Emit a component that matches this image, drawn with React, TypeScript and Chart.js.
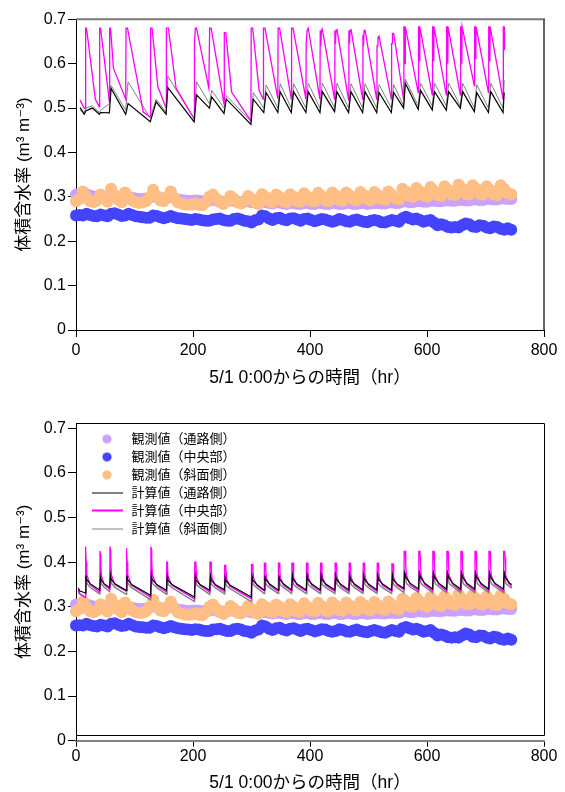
import React, { useEffect, useRef } from 'react';
import { Chart, registerables } from 'chart.js';

Chart.register(...registerables);

// ---------- text ----------
const X_TITLE = '5/1 0:00からの時間（hr）';
const Y_TITLE = '体積含水率 (m³ m⁻³)';
const LEGEND_LABELS = [
  '観測値（通路側）',
  '観測値（中央部）',
  '観測値（斜面側）',
  '計算値（通路側）',
  '計算値（中央部）',
  '計算値（斜面側）',
];

// ---------- ticks ----------
const X_TICKS = [0, 200, 400, 600, 800];
const Y_TICKS = [0, 0.1, 0.2, 0.3, 0.4, 0.5, 0.6, 0.7];

// ---------- observed (sampled every 6 hr from 0 hr) ----------
const OBS_STEP_HR = 6;
const OBS_ROAD = [
  0.305, 0.303, 0.304, 0.306, 0.303, 0.301, 0.300, 0.302, 0.300, 0.298, 0.303, 0.302, 0.299, 0.297, 0.300, 0.300, 0.298, 0.296, 0.295, 0.295, 0.296, 0.298, 0.302, 0.300, 0.297,
  0.295, 0.298, 0.300, 0.297, 0.294, 0.293, 0.292, 0.291, 0.291, 0.292, 0.291, 0.290, 0.290, 0.292, 0.294, 0.292, 0.290, 0.289, 0.290, 0.292, 0.291, 0.289, 0.288, 0.289, 0.291,
  0.288, 0.287, 0.286, 0.289, 0.288, 0.286, 0.285, 0.287, 0.287, 0.285, 0.284, 0.286, 0.286, 0.284, 0.284, 0.286, 0.286, 0.284, 0.284, 0.286, 0.286, 0.284, 0.284, 0.286, 0.286,
  0.284, 0.284, 0.286, 0.286, 0.284, 0.284, 0.286, 0.286, 0.284, 0.285, 0.286, 0.286, 0.285, 0.285, 0.287, 0.287, 0.286, 0.286, 0.289, 0.290, 0.288, 0.288, 0.290, 0.290, 0.289,
  0.289, 0.291, 0.291, 0.290, 0.290, 0.292, 0.292, 0.291, 0.291, 0.293, 0.293, 0.292, 0.292, 0.294, 0.294, 0.293, 0.293, 0.295, 0.295, 0.294, 0.294, 0.296, 0.296, 0.295, 0.295,
];
const OBS_CENTER = [
  0.258, 0.259, 0.258, 0.262, 0.259, 0.257, 0.256, 0.260, 0.258, 0.256, 0.262, 0.263, 0.260, 0.257, 0.258, 0.262, 0.259, 0.256, 0.255, 0.254, 0.253, 0.253, 0.258, 0.257, 0.254,
  0.252, 0.254, 0.257, 0.254, 0.252, 0.251, 0.250, 0.249, 0.248, 0.250, 0.249, 0.247, 0.246, 0.246, 0.249, 0.250, 0.251, 0.248, 0.246, 0.246, 0.250, 0.251, 0.249, 0.246, 0.245,
  0.242, 0.247, 0.249, 0.258, 0.256, 0.251, 0.248, 0.252, 0.253, 0.249, 0.247, 0.251, 0.252, 0.249, 0.246, 0.250, 0.251, 0.248, 0.245, 0.247, 0.250, 0.249, 0.246, 0.244, 0.246,
  0.250, 0.248, 0.245, 0.244, 0.247, 0.249, 0.246, 0.244, 0.243, 0.246, 0.248, 0.246, 0.243, 0.242, 0.245, 0.248, 0.246, 0.244, 0.252, 0.255, 0.252, 0.249, 0.251, 0.248, 0.244,
  0.246, 0.248, 0.242, 0.236, 0.238, 0.236, 0.232, 0.231, 0.232, 0.231, 0.236, 0.240, 0.238, 0.233, 0.232, 0.236, 0.235, 0.231, 0.229, 0.233, 0.232, 0.228, 0.226, 0.229, 0.226,
];
const OBS_SLOPE = [
  0.290, 0.295, 0.312, 0.298, 0.290, 0.288, 0.292, 0.305, 0.296, 0.289, 0.318, 0.305, 0.294, 0.288, 0.310, 0.300, 0.292, 0.288, 0.286, 0.287, 0.290, 0.300, 0.316, 0.302, 0.292,
  0.290, 0.300, 0.312, 0.298, 0.288, 0.285, 0.283, 0.282, 0.283, 0.285, 0.282, 0.281, 0.288, 0.300, 0.305, 0.296, 0.288, 0.284, 0.290, 0.302, 0.296, 0.287, 0.285, 0.290, 0.302,
  0.296, 0.287, 0.284, 0.306, 0.300, 0.290, 0.288, 0.305, 0.300, 0.290, 0.288, 0.306, 0.300, 0.290, 0.289, 0.308, 0.300, 0.291, 0.290, 0.309, 0.302, 0.292, 0.290, 0.310, 0.303,
  0.293, 0.291, 0.310, 0.303, 0.294, 0.292, 0.311, 0.304, 0.294, 0.292, 0.311, 0.304, 0.295, 0.293, 0.312, 0.305, 0.296, 0.294, 0.318, 0.312, 0.302, 0.300, 0.320, 0.312, 0.303,
  0.300, 0.322, 0.314, 0.304, 0.302, 0.324, 0.316, 0.306, 0.304, 0.328, 0.318, 0.307, 0.305, 0.326, 0.318, 0.307, 0.305, 0.324, 0.316, 0.306, 0.304, 0.326, 0.318, 0.308, 0.306,
];

// ---------- calculated, upper panel : [hr, value] ----------
const TOP_CALC_ROAD: [number, number][] = [
  [7, 0.501], [14, 0.486], [17, 0.494], [28, 0.5], [40, 0.486], [42, 0.49], [57, 0.489], [60, 0.544],
  [85, 0.486], [89, 0.51], [127, 0.469], [137, 0.514], [154, 0.486], [157, 0.546], [202, 0.469], [206, 0.53],
  [228, 0.5], [232, 0.525], [253, 0.488], [257, 0.52], [299, 0.463], [303, 0.52], [321, 0.49], [325, 0.535],
  [345, 0.49], [349, 0.537], [368, 0.49], [372, 0.537], [393, 0.49], [397, 0.537], [417, 0.49], [421, 0.537],
  [442, 0.492], [446, 0.537], [466, 0.49], [470, 0.537], [490, 0.49], [494, 0.537], [514, 0.49], [518, 0.535],
  [539, 0.49], [543, 0.535], [560, 0.5], [563, 0.556], [585, 0.497], [589, 0.54], [609, 0.496], [613, 0.537],
  [633, 0.495], [637, 0.537], [657, 0.5], [661, 0.537], [681, 0.492], [685, 0.535], [705, 0.49], [709, 0.537],
  [730, 0.49], [732, 0.535],
];
const TOP_CALC_CENTER: [number, number][] = [
  [7, 0.518], [14, 0.5], [16, 0.5], [16.5, 0.68], [18, 0.68], [33, 0.52], [40, 0.503], [40.5, 0.68], [42, 0.68],
  [57, 0.515], [57.5, 0.68], [59, 0.68], [64, 0.59], [85, 0.52], [85.5, 0.68], [88, 0.68], [115, 0.491],
  [127, 0.48], [127.5, 0.68], [130, 0.68], [140, 0.548], [154, 0.5], [154.5, 0.68], [158, 0.68], [171, 0.545],
  [202, 0.476], [202.5, 0.645], [204, 0.68], [206, 0.68], [227, 0.545], [228.5, 0.68], [231, 0.68],
  [253, 0.509], [253.5, 0.67], [256, 0.67], [266, 0.536], [299, 0.471], [299.5, 0.68], [302, 0.68],
  [313, 0.54], [320, 0.52], [320.5, 0.68], [323, 0.68], [345, 0.522], [345.5, 0.68], [348, 0.68],
  [368, 0.52], [368.5, 0.68], [371, 0.68],
  [393, 0.52], [393.5, 0.645], [394.5, 0.645], [395, 0.675], [397, 0.68],
  [417, 0.52], [417.5, 0.675], [418.5, 0.64], [419.5, 0.675], [421, 0.678],
  [442, 0.52], [442.5, 0.675], [443.5, 0.645], [444.5, 0.675], [446, 0.678],
  [466, 0.518], [466.5, 0.675], [467.5, 0.645], [468.5, 0.675], [470, 0.678],
  [490, 0.52], [490.5, 0.665], [491.5, 0.64], [492.5, 0.675], [494, 0.676],
  [514, 0.52], [514.5, 0.64], [516, 0.64], [516.5, 0.66], [518, 0.662],
  [539, 0.52], [539.5, 0.645], [540.5, 0.645], [541, 0.668], [543, 0.668],
  [560, 0.52], [560.5, 0.683], [562, 0.683], [562.5, 0.6], [563, 0.683],
  [585, 0.535], [585.5, 0.683], [587, 0.683], [587.5, 0.605], [588, 0.683],
  [609, 0.53], [609.5, 0.683], [611, 0.683], [611.5, 0.605], [612, 0.683],
  [633, 0.53], [633.5, 0.683], [635, 0.683], [635.5, 0.6], [636, 0.683],
  [657, 0.53], [657.5, 0.683], [659, 0.683], [659.5, 0.6], [660, 0.683],
  [681, 0.55], [681.5, 0.683], [683, 0.683], [683.5, 0.61], [684, 0.683],
  [705, 0.535], [705.5, 0.683], [707, 0.683], [707.5, 0.605], [708, 0.683],
  [730, 0.52], [730.5, 0.683], [732, 0.683], [732.5, 0.63],
];
const TOP_CALC_SLOPE: [number, number][] = [
  [7, 0.495], [14, 0.49], [17, 0.5], [28, 0.505], [40, 0.49], [42, 0.495], [57, 0.51], [60, 0.551],
  [85, 0.495], [89, 0.559], [127, 0.477], [137, 0.52], [154, 0.49], [157, 0.572], [202, 0.475], [206, 0.559],
  [228, 0.51], [232, 0.54], [253, 0.5], [257, 0.528], [299, 0.47], [303, 0.535], [321, 0.5], [325, 0.552],
  [345, 0.5], [349, 0.555], [368, 0.5], [372, 0.555], [393, 0.5], [397, 0.556], [417, 0.5], [421, 0.556],
  [442, 0.5], [446, 0.556], [466, 0.5], [470, 0.555], [490, 0.5], [494, 0.555], [514, 0.5], [518, 0.553],
  [539, 0.5], [543, 0.553], [560, 0.505], [563, 0.565], [585, 0.505], [589, 0.556], [609, 0.505], [613, 0.556],
  [633, 0.505], [637, 0.556], [657, 0.505], [661, 0.556], [681, 0.5], [685, 0.553], [705, 0.5], [709, 0.556],
  [730, 0.5], [732, 0.563],
];

// ---------- calculated, lower panel : [hr, value] ----------
const BOT_CALC_ROAD: [number, number][] = [
  [4, 0.342], [6, 0.336], [15.5, 0.331], [17, 0.37], [18, 0.362], [24, 0.352], [40.5, 0.338],
  [42, 0.366], [43, 0.36], [48, 0.352], [57.5, 0.343], [59, 0.37], [60, 0.362], [66, 0.352], [85.5, 0.337],
  [87, 0.37], [88, 0.362], [95, 0.35], [127.5, 0.326], [129, 0.37], [130, 0.362], [138, 0.35], [154.5, 0.337],
  [156, 0.368], [157, 0.36], [164, 0.35], [202.5, 0.322], [204, 0.368], [205, 0.36], [212, 0.35], [228.5, 0.337],
  [230, 0.368], [231, 0.36], [238, 0.35], [253.5, 0.338], [255, 0.366], [256, 0.359], [263, 0.349], [299.5, 0.322],
  [301, 0.368], [302, 0.36], [309, 0.35], [321.5, 0.338], [323, 0.37], [324, 0.362], [331, 0.351], [345.5, 0.338],
  [347, 0.37], [348, 0.362], [355, 0.351], [368.5, 0.338], [370, 0.37], [371, 0.362], [378, 0.351], [393.5, 0.338],
  [395, 0.37], [396, 0.362], [403, 0.351], [417.5, 0.338], [419, 0.37], [420, 0.362], [427, 0.351], [442.5, 0.338],
  [444, 0.37], [445, 0.362], [452, 0.351], [466.5, 0.338], [468, 0.37], [469, 0.362], [476, 0.351], [490.5, 0.338],
  [492, 0.37], [493, 0.362], [500, 0.351], [514.5, 0.338], [516, 0.37], [517, 0.362], [524, 0.351], [539.5, 0.338],
  [541, 0.37], [542, 0.362], [549, 0.351], [560.5, 0.341], [562, 0.376], [564, 0.366], [571, 0.353], [585.5, 0.34],
  [587, 0.376], [589, 0.366], [596, 0.353], [609.5, 0.34], [611, 0.376], [613, 0.366], [620, 0.353], [633.5, 0.34],
  [635, 0.376], [637, 0.366], [644, 0.353], [657.5, 0.34], [659, 0.376], [661, 0.366], [668, 0.353], [681.5, 0.34],
  [683, 0.376], [685, 0.366], [692, 0.353], [705.5, 0.34], [707, 0.376], [709, 0.366], [716, 0.353], [730.5, 0.34],
  [732, 0.376], [734, 0.366], [741, 0.353], [745, 0.35],
];
const BOT_CALC_CENTER: [number, number][] = [
  [4, 0.338], [6, 0.33], [15.5, 0.322],
  [16, 0.435], [17, 0.428], [17.5, 0.4], [18.5, 0.372], [24, 0.35], [40.5, 0.333],
  [41, 0.425], [42, 0.418], [42.5, 0.395], [43.5, 0.37], [48, 0.35], [57.5, 0.34],
  [58, 0.435], [59, 0.428], [59.5, 0.4], [60.5, 0.372], [66, 0.35], [85.5, 0.335],
  [86, 0.432], [87, 0.425], [87.5, 0.4], [88.5, 0.372], [95, 0.348], [127.5, 0.322],
  [128, 0.435], [129, 0.428], [129.5, 0.4], [130.5, 0.372], [138, 0.348], [154.5, 0.333],
  [155, 0.4], [156, 0.4], [156.5, 0.385], [157.5, 0.368], [164, 0.348], [202.5, 0.318],
  [203, 0.4], [205, 0.4], [205.5, 0.38], [206.5, 0.365], [212, 0.348], [228.5, 0.333],
  [229, 0.4], [231, 0.4], [231.5, 0.38], [232.5, 0.365], [238, 0.348], [253.5, 0.334],
  [254, 0.393], [256, 0.393], [256.5, 0.378], [257.5, 0.363], [263, 0.346], [299.5, 0.318],
  [300, 0.395], [302, 0.395], [302.5, 0.38], [303.5, 0.365], [309, 0.348], [321.5, 0.336],
  [322, 0.398], [324, 0.398], [324.5, 0.38], [325.5, 0.365], [331, 0.348], [345.5, 0.335],
  [346, 0.398], [348, 0.398], [348.5, 0.38], [349.5, 0.365], [355, 0.348], [368.5, 0.335],
  [369, 0.398], [371, 0.398], [371.5, 0.38], [372.5, 0.365], [378, 0.348], [393.5, 0.335],
  [394, 0.398], [396, 0.398], [396.5, 0.38], [397.5, 0.365], [403, 0.348], [417.5, 0.335],
  [418, 0.398], [420, 0.398], [420.5, 0.38], [421.5, 0.365], [427, 0.348], [442.5, 0.335],
  [443, 0.398], [445, 0.398], [445.5, 0.38], [446.5, 0.365], [452, 0.348], [466.5, 0.335],
  [467, 0.398], [469, 0.398], [469.5, 0.38], [470.5, 0.365], [476, 0.348], [490.5, 0.335],
  [491, 0.398], [493, 0.398], [493.5, 0.38], [494.5, 0.365], [500, 0.348], [514.5, 0.335],
  [515, 0.398], [517, 0.398], [517.5, 0.38], [518.5, 0.365], [524, 0.348], [539.5, 0.335],
  [540, 0.396], [542, 0.396], [542.5, 0.38], [543.5, 0.365], [549, 0.348], [560.5, 0.338],
  [561, 0.424], [563, 0.424], [563.5, 0.41], [564, 0.39], [565, 0.37], [571, 0.35], [585.5, 0.336],
  [586, 0.424], [588, 0.424], [588.5, 0.41], [589, 0.39], [590, 0.37], [596, 0.35], [609.5, 0.336],
  [610, 0.424], [612, 0.424], [612.5, 0.41], [613, 0.39], [614, 0.37], [620, 0.35], [633.5, 0.336],
  [634, 0.424], [636, 0.424], [636.5, 0.41], [637, 0.39], [638, 0.37], [644, 0.35], [657.5, 0.336],
  [658, 0.424], [660, 0.424], [660.5, 0.41], [661, 0.39], [662, 0.37], [668, 0.35], [681.5, 0.336],
  [682, 0.424], [684, 0.424], [684.5, 0.41], [685, 0.39], [686, 0.37], [692, 0.35], [705.5, 0.336],
  [706, 0.424], [708, 0.424], [708.5, 0.41], [709, 0.39], [710, 0.37], [716, 0.35], [730.5, 0.336],
  [731, 0.424], [733, 0.424], [733.5, 0.41], [734, 0.39], [735, 0.37], [740, 0.352], [745, 0.345],
];
const BOT_CALC_SLOPE: [number, number][] = [
  [4, 0.336], [6, 0.329], [15.5, 0.322], [16.5, 0.383], [17.5, 0.362], [19, 0.352], [24, 0.344], [40.5, 0.329],
  [41.5, 0.378], [42.5, 0.36], [44, 0.35], [48, 0.344], [57.5, 0.334],
  [58.5, 0.383], [59.5, 0.362], [61, 0.352], [66, 0.344], [85.5, 0.328],
  [86.5, 0.383], [87.5, 0.362], [89, 0.352], [95, 0.343], [127.5, 0.316],
  [128.5, 0.383], [129.5, 0.362], [131, 0.352], [138, 0.343], [154.5, 0.328],
  [155.5, 0.375], [156.5, 0.36], [158, 0.35], [164, 0.343], [202.5, 0.312],
  [203.5, 0.375], [204.5, 0.36], [206, 0.35], [212, 0.343], [228.5, 0.328],
  [229.5, 0.375], [230.5, 0.36], [232, 0.35], [238, 0.343], [253.5, 0.329],
  [254.5, 0.372], [255.5, 0.358], [257, 0.348], [263, 0.341], [299.5, 0.312],
  [300.5, 0.375], [301.5, 0.36], [303, 0.35], [309, 0.343], [321.5, 0.33],
  [322.5, 0.377], [323.5, 0.36], [325, 0.35], [331, 0.343], [345.5, 0.33],
  [346.5, 0.377], [347.5, 0.36], [349, 0.35], [355, 0.343], [368.5, 0.33],
  [369.5, 0.377], [370.5, 0.36], [372, 0.35], [378, 0.343], [393.5, 0.33],
  [394.5, 0.377], [395.5, 0.36], [397, 0.35], [403, 0.343], [417.5, 0.33],
  [418.5, 0.377], [419.5, 0.36], [421, 0.35], [427, 0.343], [442.5, 0.33],
  [443.5, 0.377], [444.5, 0.36], [446, 0.35], [452, 0.343], [466.5, 0.33],
  [467.5, 0.377], [468.5, 0.36], [470, 0.35], [476, 0.343], [490.5, 0.33],
  [491.5, 0.377], [492.5, 0.36], [494, 0.35], [500, 0.343], [514.5, 0.33],
  [515.5, 0.377], [516.5, 0.36], [518, 0.35], [524, 0.343], [539.5, 0.33],
  [540.5, 0.377], [541.5, 0.36], [543, 0.35], [549, 0.343], [560.5, 0.332],
  [561.5, 0.38], [563, 0.365], [565, 0.352], [571, 0.345], [585.5, 0.332],
  [586.5, 0.38], [588, 0.365], [590, 0.352], [596, 0.345], [609.5, 0.332],
  [610.5, 0.38], [612, 0.365], [614, 0.352], [620, 0.345], [633.5, 0.332],
  [634.5, 0.38], [636, 0.365], [638, 0.352], [644, 0.345], [657.5, 0.332],
  [658.5, 0.38], [660, 0.365], [662, 0.352], [668, 0.345], [681.5, 0.332],
  [682.5, 0.38], [684, 0.365], [686, 0.352], [692, 0.345], [705.5, 0.332],
  [706.5, 0.38], [708, 0.365], [710, 0.352], [716, 0.345], [730.5, 0.332],
  [731.5, 0.38], [733, 0.365], [735, 0.352], [741, 0.345], [745, 0.342],
];

// ---------- styling ----------
const FONT = '"Liberation Sans", "Noto Sans CJK JP", "DejaVu Sans", sans-serif';
const C_ROAD_OBS = '#cba2fb';
const C_CENTER_OBS = '#4444ff';
const C_SLOPE_OBS = '#ffbe84';
const C_ROAD_CALC = '#000000';
const C_CENTER_CALC = '#ff00ff';
const C_SLOPE_CALC = '#808080';
const FRAME_BOTTOM_VALUE = 0.013;

const obsPoints = (arr: number[]) => arr.map((v, i) => ({ x: i * OBS_STEP_HR, y: v }));
const linePoints = (arr: [number, number][]) => arr.map(([x, y]) => ({ x, y }));

function legendImage(kind: 'dot' | 'line', color: string, lw = 1) {
  const c = document.createElement('canvas');
  c.width = 42;
  c.height = kind === 'dot' ? 11 : 5;
  const g = c.getContext('2d') as CanvasRenderingContext2D;
  if (kind === 'dot') {
    g.fillStyle = color;
    g.beginPath();
    g.arc(25, 5.5, 4.6, 0, Math.PI * 2);
    g.fill();
  } else {
    g.strokeStyle = color;
    g.lineWidth = lw;
    g.beginPath();
    const y = lw % 2 === 1 ? 2.5 : 2;
    g.moveTo(10, y);
    g.lineTo(41, y);
    g.stroke();
  }
  return c;
}

const framePlugin = {
  id: 'frame',
  afterDraw(chart: any, _args: any, opts: any) {
    const { ctx, chartArea } = chart;
    const { left, right, top, bottom } = chartArea;
    ctx.save();
    if (opts.variant === 'top') {
      ctx.strokeStyle = '#7a7a7a';
      ctx.lineWidth = 2;
      ctx.beginPath();
      ctx.moveTo(left, top);
      ctx.lineTo(right + 1, top);
      ctx.stroke();
      ctx.strokeStyle = '#333333';
      ctx.lineWidth = 1.5;
      ctx.beginPath();
      ctx.moveTo(right, top);
      ctx.lineTo(right, bottom);
      ctx.stroke();
    } else {
      const yb = chart.scales.y.getPixelForValue(FRAME_BOTTOM_VALUE);
      ctx.strokeStyle = '#000000';
      ctx.lineWidth = 1;
      ctx.beginPath();
      ctx.moveTo(left, Math.round(top) + 0.5);
      ctx.lineTo(Math.round(right) + 0.5, Math.round(top) + 0.5);
      ctx.lineTo(Math.round(right) + 0.5, Math.round(yb) + 0.5);
      ctx.lineTo(left, Math.round(yb) + 0.5);
      ctx.stroke();
    }
    ctx.restore();
  },
};

function buildConfig(panel: 'top' | 'bottom'): any {
  const isTop = panel === 'top';
  const road = isTop ? TOP_CALC_ROAD : BOT_CALC_ROAD;
  const center = isTop ? TOP_CALC_CENTER : BOT_CALC_CENTER;
  const slope = isTop ? TOP_CALC_SLOPE : BOT_CALC_SLOPE;

  const obsDs = (label: string, arr: number[], color: string, order: number) => ({
    label,
    data: obsPoints(arr),
    showLine: false,
    pointRadius: 6,
    pointHoverRadius: 6,
    pointBorderWidth: 0,
    pointBackgroundColor: color,
    backgroundColor: color,
    borderColor: color,
    clip: false,
    order,
  });
  const lineDs = (label: string, arr: [number, number][], color: string, width: number, order: number) => ({
    label,
    data: linePoints(arr),
    showLine: true,
    pointRadius: 0,
    pointHoverRadius: 0,
    borderColor: color,
    backgroundColor: color,
    borderWidth: width,
    tension: 0,
    fill: false,
    order,
  });

  const images = [
    legendImage('dot', C_ROAD_OBS),
    legendImage('dot', C_CENTER_OBS),
    legendImage('dot', C_SLOPE_OBS),
    legendImage('line', C_ROAD_CALC, 1),
    legendImage('line', C_CENTER_CALC, 2),
    legendImage('line', C_SLOPE_CALC, 1),
  ];

  return {
    type: 'scatter',
    data: {
      datasets: [
        obsDs(LEGEND_LABELS[0], OBS_ROAD, C_ROAD_OBS, 5),
        obsDs(LEGEND_LABELS[1], OBS_CENTER, C_CENTER_OBS, 6),
        obsDs(LEGEND_LABELS[2], OBS_SLOPE, C_SLOPE_OBS, 4),
        lineDs(LEGEND_LABELS[3], road, C_ROAD_CALC, 1.2, 1),
        lineDs(LEGEND_LABELS[4], center, C_CENTER_CALC, 1.3, 2),
        lineDs(LEGEND_LABELS[5], slope, C_SLOPE_CALC, isTop ? 1 : 1.4, 3),
      ],
    },
    plugins: [framePlugin],
    options: {
      responsive: false,
      animation: false,
      devicePixelRatio: 1,
      events: [],
      layout: { padding: { left: 0, right: 21, top: isTop ? 19.3 : 27, bottom: 0 } },
      scales: {
        x: {
          type: 'linear',
          position: 'bottom',
          min: 0,
          max: 800,
          afterFit: (s: any) => {
            s.height = isTop ? 66 : 51.3;
          },
          afterBuildTicks: (s: any) => {
            s.ticks = X_TICKS.map((v) => ({ value: v }));
          },
          ticks: {
            font: { family: FONT, size: 16 },
            color: '#000',
            padding: isTop ? 4 : 0,
            maxRotation: 0,
            autoSkip: false,
          },
          grid: { drawOnChartArea: false, drawTicks: true, tickLength: isTop ? 7 : 6, color: '#000' },
          border: { display: true, color: isTop ? '#000' : '#808080', width: isTop ? 1 : 2 },
          title: {
            display: true,
            text: X_TITLE,
            color: '#000',
            font: { family: FONT, size: 17.5, lineHeight: 1 },
            padding: { top: 0, bottom: isTop ? 9.25 : 0.25 },
          },
        },
        y: {
          type: 'linear',
          min: 0,
          max: isTop ? 0.7 : 0.712,
          afterFit: (s: any) => {
            s.width = 76;
          },
          afterBuildTicks: (s: any) => {
            s.ticks = Y_TICKS.map((v) => ({ value: v }));
          },
          ticks: {
            font: { family: FONT, size: 16 },
            color: '#000',
            padding: 2,
            includeBounds: false,
            autoSkip: false,
            callback: (v: number) => String(v),
          },
          grid: { drawOnChartArea: false, drawTicks: true, tickLength: 8, color: '#000' },
          border: { display: true, color: '#000', width: 1 },
          title: {
            display: true,
            text: Y_TITLE,
            color: '#000',
            font: { family: FONT, size: 17 },
            padding: { top: 14.5, bottom: 0 },
          },
        },
      },
      plugins: {
        frame: { variant: panel },
        tooltip: { enabled: false },
        legend: {
          display: !isTop,
          position: 'chartArea',
          align: 'start',
          title: { display: true, text: '', font: { size: 1, lineHeight: 1 }, padding: { top: 30.5, bottom: 0 } },
          labels: {
            usePointStyle: true,
            pointStyleWidth: 44,
            boxHeight: 13,
            padding: 5,
            color: '#000',
            font: { family: FONT, size: 13 },
            generateLabels: () =>
              LEGEND_LABELS.map((text, i) => ({
                text,
                pointStyle: images[i],
                fillStyle: 'rgba(0,0,0,0)',
                strokeStyle: 'rgba(0,0,0,0)',
                lineWidth: 0,
                hidden: false,
                datasetIndex: i,
                fontColor: '#000',
              })),
          },
        },
      },
    },
  };
}

export default function App() {
  const topRef = useRef<HTMLCanvasElement | null>(null);
  const botRef = useRef<HTMLCanvasElement | null>(null);

  useEffect(() => {
    const charts: Chart[] = [];
    if (topRef.current) charts.push(new Chart(topRef.current, buildConfig('top')));
    if (botRef.current) charts.push(new Chart(botRef.current, buildConfig('bottom')));
    return () => {
      charts.forEach((c) => c.destroy());
    };
  }, []);

  return (
    <div style={{ position: 'absolute', left: 0, top: 0, width: 565, height: 792, background: '#fff', overflow: 'hidden' }}>
      <canvas
        ref={topRef}
        width={565}
        height={396}
        style={{ position: 'absolute', left: 0, top: 0, width: 565, height: 396 }}
      />
      <canvas
        ref={botRef}
        width={565}
        height={396}
        style={{ position: 'absolute', left: 0, top: 396, width: 565, height: 396 }}
      />
    </div>
  );
}
